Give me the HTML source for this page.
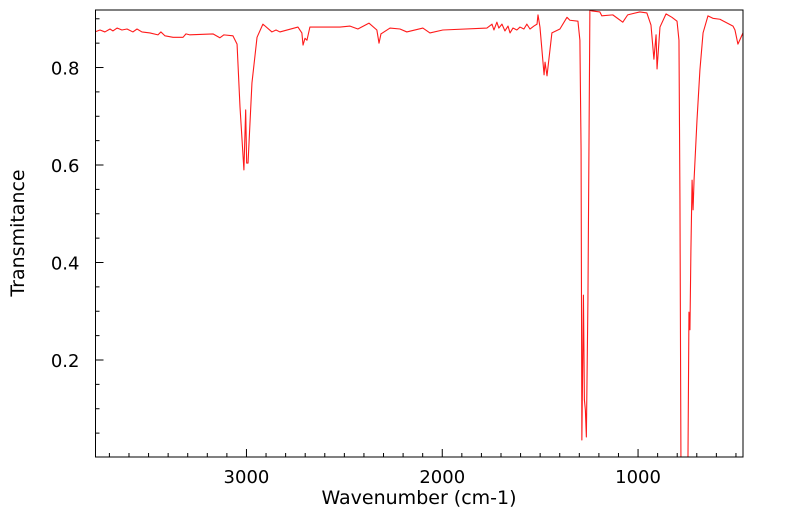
<!DOCTYPE html>
<html><head><meta charset="utf-8"><style>
html,body{margin:0;padding:0;background:#fff;}
svg{display:block;font-family:"DejaVu Sans","Liberation Sans",sans-serif;}
</style></head><body>
<svg id="chart" width="799" height="516" viewBox="0 0 799 516" xmlns="http://www.w3.org/2000/svg">
<defs><clipPath id="plotclip"><rect x="95.5" y="10" width="647.5" height="447"/></clipPath></defs>
<g id="ticks"></g>
<g id="labels"></g>
<path id="spectrum" fill="none" stroke="#ff1a1a" stroke-width="1.1" stroke-linejoin="round" clip-path="url(#plotclip)"/>
<rect x="95.5" y="10" width="647.5" height="447" fill="none" stroke="#000" stroke-width="1"/>
<text x="419" y="504" font-size="19" text-anchor="middle">Wavenumber (cm-1)</text>
<text x="24" y="233" font-size="19" text-anchor="middle" transform="rotate(-90 24 233)">Transmitance</text>
</svg>
<script>
const wavenumbers = [3774,3748,3723,3697,3682,3661,3636,3610,3580,3559,3534,3493,3452,3437,3416,3375,3324,3309,3289,3171,3136,3115,3069,3048,3033,3013,3004,2999,2992,2972,2946,2916,2870,2849,2829,2737,2717,2711,2701,2691,2676,2522,2471,2431,2374,2334,2323,2313,2267,2216,2181,2099,2063,1997,1772,1746,1736,1721,1711,1695,1680,1664,1654,1639,1619,1603,1583,1568,1552,1532,1516,1511,1501,1480,1475,1465,1440,1399,1363,1348,1307,1297,1291,1287,1279,1274,1269,1264,1256,1246,1236,1195,1185,1129,1078,1053,991,955,934,919,908,903,888,857,827,801,791,786,781,745,740,735,730,724,719,714,699,684,668,643,618,582,515,505,490,464];
const transmittance = [0.873,0.877,0.873,0.879,0.875,0.881,0.877,0.879,0.873,0.879,0.873,0.871,0.867,0.873,0.865,0.862,0.862,0.869,0.867,0.869,0.861,0.867,0.865,0.848,0.719,0.590,0.713,0.604,0.604,0.768,0.862,0.889,0.873,0.877,0.873,0.883,0.871,0.846,0.860,0.856,0.883,0.883,0.885,0.879,0.891,0.877,0.850,0.869,0.881,0.879,0.873,0.881,0.871,0.877,0.881,0.889,0.877,0.893,0.881,0.889,0.875,0.885,0.871,0.881,0.877,0.883,0.879,0.889,0.879,0.885,0.889,0.908,0.883,0.785,0.811,0.783,0.871,0.879,0.903,0.897,0.895,0.856,0.631,0.036,0.333,0.118,0.097,0.042,0.323,0.918,0.916,0.914,0.906,0.908,0.893,0.908,0.914,0.912,0.887,0.817,0.867,0.797,0.883,0.910,0.903,0.895,0.856,0.528,0.0,0.0,0.298,0.262,0.426,0.569,0.508,0.569,0.692,0.795,0.871,0.906,0.901,0.899,0.885,0.877,0.848,0.871];
const xMajorTicks = [3000,2000,1000];
const yMajorTicks = [0.2,0.4,0.6,0.8];
const yTickLabels = ["0.2","0.4","0.6","0.8"];

const X0=95.5,X1=743,Y0=10,Y1=457;
const W_LEFT=3771,W_RIGHT=464,T_BOT=0.001,T_TOP=0.918;
function xs(w){return X0+(W_LEFT-w)/(W_LEFT-W_RIGHT)*(X1-X0);}
function ys(t){return Y1-(t-T_BOT)/(T_TOP-T_BOT)*(Y1-Y0);}

const NS="http://www.w3.org/2000/svg";
let d="";
for(let i=0;i<wavenumbers.length;i++){d+=(i?"L":"M")+xs(wavenumbers[i]).toFixed(2)+","+ys(transmittance[i]).toFixed(2);}
document.getElementById("spectrum").setAttribute("d",d);

const tg=document.getElementById("ticks"), lg=document.getElementById("labels");
function line(x1,y1,x2,y2,name){
  const l=document.createElementNS(NS,"line");
  l.setAttribute("x1",x1);l.setAttribute("y1",y1);l.setAttribute("x2",x2);l.setAttribute("y2",y2);
  l.setAttribute("stroke","#000");l.setAttribute("stroke-width","1");
  
  
  tg.appendChild(l);
}
for(let w=3700;w>=500;w-=100){
  const major=xMajorTicks.indexOf(w)>=0;
  const x=xs(w);
  line(x,Y1,x,Y1-(major?8:4),"x-tick");
}
for(let k=1;k<=18;k++){
  const t=k*0.05;
  const y=ys(t); if(y<Y0) continue;
  const major=(k%4===0);
  line(X0,y,X0+(major?8:4),y,"y-tick");
}
xMajorTicks.forEach(w=>{
  const t=document.createElementNS(NS,"text");
  t.setAttribute("x",xs(w));t.setAttribute("y",Y1+26);t.setAttribute("font-size","18");t.setAttribute("text-anchor","middle");
  t.textContent=String(w);
  
  
  lg.appendChild(t);
});
yMajorTicks.forEach((v,i)=>{
  const t=document.createElementNS(NS,"text");
  t.setAttribute("x",X0-16);t.setAttribute("y",ys(v)+7);t.setAttribute("font-size","18");t.setAttribute("text-anchor","end");
  t.textContent=yTickLabels[i];
  
  
  lg.appendChild(t);
});
</script>
</body></html>
